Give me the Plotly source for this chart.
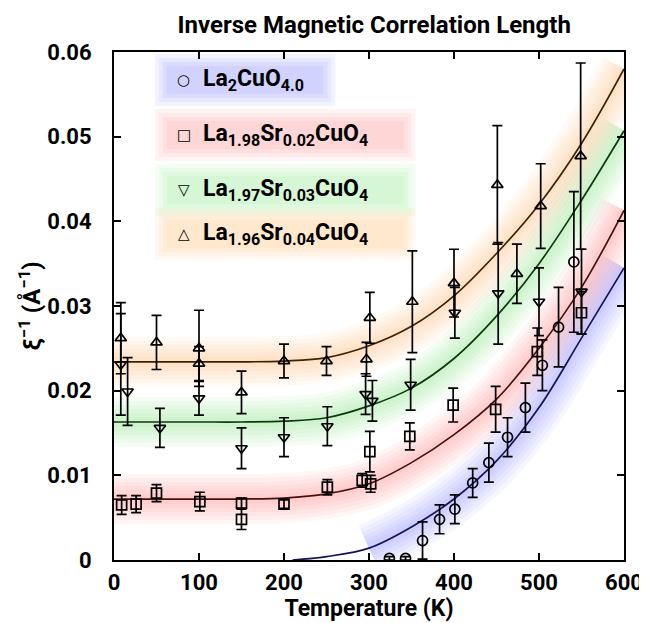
import plotly.graph_objects as go

# ---------------- data ----------------
# La2CuO4.0  (circles)
T_la2 = [324, 343, 363, 383, 401, 422, 441, 463, 484, 504, 523, 541]
y_la2 = [0.0002, 0.0002, 0.0023, 0.0048, 0.0060, 0.0091, 0.0115, 0.0145, 0.0180, 0.0230, 0.0275, 0.0352]
e_la2 = [0.0002, 0.0002, 0.0022, 0.0017, 0.0017, 0.0017, 0.0023, 0.0023, 0.0029, 0.0030, 0.0047, 0.0083]

# La1.98Sr0.02CuO4 (squares)
T_sr2 = [9, 26, 50, 101, 150, 150, 200, 251, 292, 302, 301, 348, 399, 449, 498, 550]
y_sr2 = [0.0065, 0.0066, 0.0079, 0.0069, 0.0067, 0.0048, 0.0066, 0.0086, 0.0094, 0.0090, 0.0128, 0.0146, 0.0183, 0.0178, 0.0246, 0.0292]
e_sr2 = [0.0011, 0.0010, 0.0010, 0.0011, 0.0006, 0.0012, 0.0005, 0.0009, 0.0008, 0.0010, 0.0024, 0.0016, 0.0020, 0.0027, 0.0028, 0.0025]

# La1.97Sr0.03CuO4 (down triangles)
T_sr3 = [8, 16, 54, 100, 150, 200, 251, 296, 304, 349, 401, 452, 500, 550]
y_sr3 = [0.0231, 0.0199, 0.0156, 0.0191, 0.0132, 0.0145, 0.0158, 0.0196, 0.0188, 0.0207, 0.0292, 0.0315, 0.0305, 0.0317]
e_sr3 = [0.0060, 0.0040, 0.0023, 0.0020, 0.0024, 0.0023, 0.0023, 0.0024, 0.0024, 0.0030, 0.0030, 0.0060, 0.0040, 0.0050]

# La1.96Sr0.04CuO4 (up triangles)
T_sr4 = [8, 50, 100, 100, 150, 200, 250, 297, 301, 351, 400, 451, 474, 502, 549]
y_sr4 = [0.0262, 0.0257, 0.0250, 0.0232, 0.0198, 0.0235, 0.0235, 0.0237, 0.0286, 0.0305, 0.0327, 0.0443, 0.0338, 0.0418, 0.0477]
e_sr4 = [0.0042, 0.0032, 0.0045, 0.0020, 0.0025, 0.0020, 0.0017, 0.0020, 0.0030, 0.0060, 0.0040, 0.0070, 0.0035, 0.0050, 0.0110]

# fitted curves
T_fit_la2 = [210, 250, 300, 350, 400, 450, 500, 550, 600]
y_fit_la2 = [0.0, 0.0004, 0.0014, 0.0039, 0.0072, 0.0117, 0.0180, 0.0262, 0.0345]
T_fit = [0, 50, 100, 150, 200, 250, 300, 350, 400, 450, 500, 550, 600]
y_fit_sr2 = [0.0072, 0.0072, 0.0072, 0.0072, 0.0073, 0.0078, 0.0090, 0.0115, 0.0148, 0.0190, 0.0250, 0.0322, 0.0413]
y_fit_sr3 = [0.0163, 0.0163, 0.0163, 0.0163, 0.0164, 0.0168, 0.0182, 0.0203, 0.0238, 0.0288, 0.0350, 0.0425, 0.0507]
y_fit_sr4 = [0.0234, 0.0234, 0.0234, 0.0234, 0.0235, 0.0239, 0.0253, 0.0276, 0.0312, 0.0362, 0.0420, 0.0492, 0.0580]

names = ["La<sub>2</sub>CuO<sub>4.0</sub>",
         "La<sub>1.98</sub>Sr<sub>0.02</sub>CuO<sub>4</sub>",
         "La<sub>1.97</sub>Sr<sub>0.03</sub>CuO<sub>4</sub>",
         "La<sub>1.96</sub>Sr<sub>0.04</sub>CuO<sub>4</sub>"]
glyphs = ["○", "□", "▽", "△"]

x_ticks = [0, 100, 200, 300, 400, 500, 600]
y_ticks = [0, 0.01, 0.02, 0.03, 0.04, 0.05, 0.06]
y_tick_text = ["0", "0.01", "0.02", "0.03", "0.04", "0.05", "0.06"]

# ---------------- styling ----------------
band_rgb = ["90,90,255", "255,100,100", "100,225,100", "255,170,70"]
line_col = ["#14145a", "#4a1010", "#0f3a0f", "#3a2408"]
symbols = ["circle-open", "square-open", "triangle-down-open", "triangle-up-open"]
FONT = "Roboto"

fig = go.Figure()

# the blue highlight only starts where the curve lifts off zero
blue_band_T = [t for t in T_fit_la2 if t >= 300]
blue_band_y = [v for t, v in zip(T_fit_la2, y_fit_la2) if t >= 300]
bands = [(blue_band_T, blue_band_y), (T_fit, y_fit_sr2), (T_fit, y_fit_sr3), (T_fit, y_fit_sr4)]
fits = [(T_fit_la2, y_fit_la2), (T_fit, y_fit_sr2), (T_fit, y_fit_sr3), (T_fit, y_fit_sr4)]

# soft coloured bands behind the curves
for (tx, ty), rgb in zip(bands, band_rgb):
    for w in [50, 42, 34, 26, 18, 10]:
        fig.add_trace(go.Scatter(x=tx, y=ty, mode="lines", line_shape="spline",
                                 line=dict(color=f"rgba({rgb},0.055)", width=w),
                                 hoverinfo="skip", showlegend=False))
# curves
for (tx, ty), c in zip(fits, line_col):
    fig.add_trace(go.Scatter(x=tx, y=ty, mode="lines", line_shape="spline",
                             line=dict(color=c, width=1.7), showlegend=False))

data = [(T_la2, y_la2, e_la2), (T_sr2, y_sr2, e_sr2), (T_sr3, y_sr3, e_sr3), (T_sr4, y_sr4, e_sr4)]
for (tx, ty, te), sym, nm in zip(data, symbols, names):
    fig.add_trace(go.Scatter(
        x=tx, y=ty, mode="markers", name=nm, showlegend=False,
        marker=dict(symbol=sym, size=10, color="black", line=dict(width=1.7, color="black")),
        error_y=dict(type="data", array=te, visible=True, color="black", thickness=1.7, width=5)))

# legend built from shapes + annotations
def px2paper(px, py):
    return (px - 106) / 521.0, (552 - py) / 508.0

rows_py = [72, 127, 182, 226]
band_right = [320, 402, 402, 402]
shapes = []
annotations = []
for i, py in enumerate(rows_py):
    for pad in [12, 8, 4, 0]:
        x0, y0 = px2paper(160 - pad, py + 14 + pad)
        x1, y1 = px2paper(band_right[i] + pad, py - 14 - pad)
        shapes.append(dict(type="rect", xref="paper", yref="paper", x0=x0, y0=y0, x1=x1, y1=y1,
                           line=dict(width=0), fillcolor=f"rgba({band_rgb[i]},0.07)", layer="below"))
    gx, gy = px2paper(177, py)
    annotations.append(dict(xref="paper", yref="paper", x=gx, y=gy, text=glyphs[i], showarrow=False,
                            xanchor="center", yanchor="middle",
                            font=dict(family="DejaVu Sans", size=15, color="black")))
    tx, ty = px2paper(195, py)
    annotations.append(dict(xref="paper", yref="paper", x=tx, y=ty, text=names[i], showarrow=False,
                            xanchor="left", yanchor="middle",
                            font=dict(family=FONT, size=23, color="black", weight="bold")))

axis_common = dict(showline=True, linewidth=2, linecolor="black", mirror="ticks",
                   ticks="inside", ticklen=7, tickwidth=1.6, tickcolor="black",
                   showgrid=False, zeroline=False,
                   tickfont=dict(family=FONT, size=22, color="black", weight="bold"))

fig.update_layout(
    width=647, height=623,
    margin=dict(l=106, r=20, t=44, b=71),
    paper_bgcolor="white", plot_bgcolor="white",
    title=dict(text="Inverse Magnetic Correlation Length", x=0.566, xanchor="center",
               y=1 - 17 / 623, yanchor="middle",
               font=dict(family=FONT, size=24, color="black", weight="bold")),
    xaxis=dict(range=[0, 600], tickvals=x_ticks, ticktext=[str(v) for v in x_ticks],
               ticklabelstandoff=2,
               title=dict(text="Temperature (K)", standoff=2,
                          font=dict(family=FONT, size=23, color="black", weight="bold")),
               **axis_common),
    yaxis=dict(range=[0, 0.06], tickvals=y_ticks, ticktext=y_tick_text,
               ticklabelstandoff=16,
               title=dict(text="ξ<sup>−1</sup> (Å<sup>−1</sup>)", standoff=0,
                          font=dict(family=FONT, size=24, color="black", weight="bold")),
               **axis_common),
    shapes=shapes,
    annotations=annotations,
)

fig.write_html("out.html")
